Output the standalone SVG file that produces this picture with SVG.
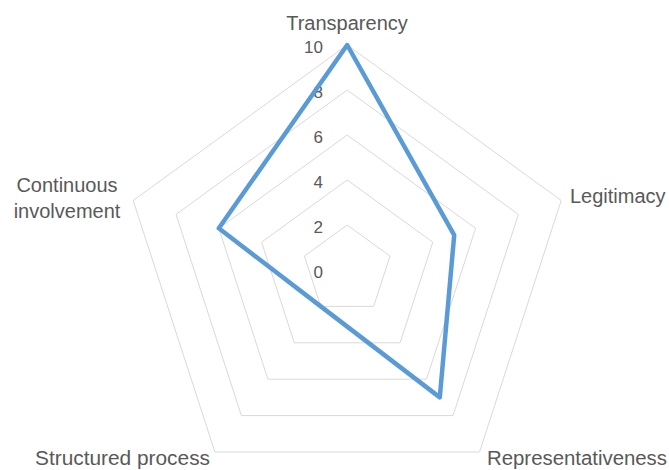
<svg xmlns="http://www.w3.org/2000/svg" width="669" height="470" viewBox="0 0 669 470">
<style>
.grid{fill:none;stroke:#D9D9D9;stroke-width:1}
.series{fill:none;stroke:#5B9BD5;stroke-width:4.5;stroke-linejoin:round}
.lbl{font-family:"Liberation Sans",Arial,sans-serif;font-size:20px;fill:#595959}
.tick{font-family:"Liberation Sans",Arial,sans-serif;font-size:17px;fill:#595959;text-anchor:end}
</style>
<rect width="669" height="470" fill="#FFFFFF"/>
<g id="gridlines">
<polygon class="grid" points="347.2,225 390.0,256.1 373.65,306.4 320.75,306.4 304.4,256.1"/>
<polygon class="grid" points="347.2,180 432.8,242.2 400.1,342.8 294.3,342.8 261.6,242.2"/>
<polygon class="grid" points="347.2,135 475.6,228.3 426.5,379.2 267.9,379.2 218.8,228.3"/>
<polygon class="grid" points="347.2,90 518.4,214.4 453.0,415.6 241.4,415.6 176.0,214.4"/>
<polygon class="grid" points="347.2,45 561.2,200.5 479.5,452.0 214.9,452.0 133.2,200.5"/>
</g>
<g id="ticks">
<text class="tick" x="323" y="53">10</text>
<text class="tick" x="323" y="98">8</text>
<text class="tick" x="323" y="143">6</text>
<text class="tick" x="323" y="188">4</text>
<text class="tick" x="323" y="233">2</text>
<text class="tick" x="323" y="278">0</text>
</g>
<g id="connectors">
<polygon class="series" points="347.2,45 454.2,235.2 439.8,397.4 320.75,306.4 218.8,228.3"/>
</g>
<g id="axis-transparency"><text class="lbl" x="347" y="30" text-anchor="middle">Transparency</text></g>
<g id="axis-legitimacy"><text class="lbl" x="570" y="203">Legitimacy</text></g>
<g id="axis-representativeness"><text class="lbl" x="487" y="465" textLength="180" lengthAdjust="spacingAndGlyphs">Representativeness</text></g>
<g id="axis-structured-process"><text class="lbl" x="35" y="465" textLength="175" lengthAdjust="spacingAndGlyphs">Structured process</text></g>
<g id="axis-continuous-involvement"><text class="lbl" x="67" y="192" text-anchor="middle">Continuous</text><text class="lbl" x="67" y="218" text-anchor="middle">involvement</text></g>
</svg>
